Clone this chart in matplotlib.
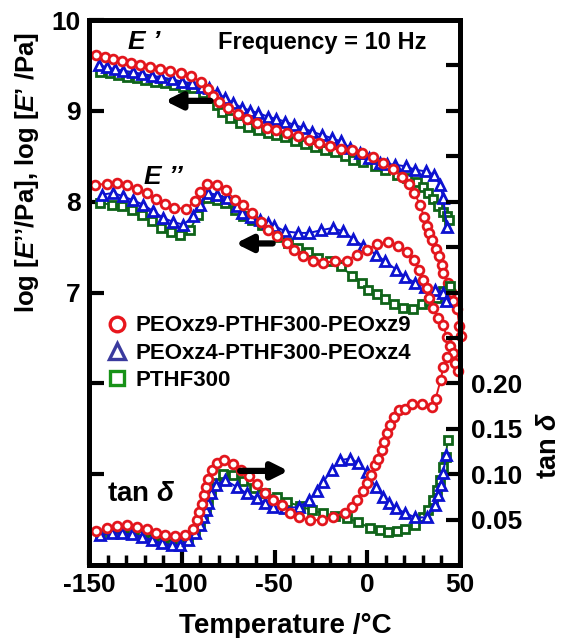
import matplotlib.pyplot as plt
from matplotlib.lines import Line2D
from matplotlib.ticker import MultipleLocator

# ---- data ----
# PEOxz9-PTHF300-PEOxz9
T9_e1 = [-146.2, -141.4, -136.9, -132.4, -127.5, -122.5, -117.1, -111.7, -106.3, -100.6,
         -95.0, -89.8, -86.0, -83.0, -79.8, -74.9, -69.8, -65.0, -59.6, -54.2,
         -49.0, -43.1, -37.2, -31.4, -26.0, -20.1, -14.2, -8.4, -2.7, 2.9,
         8.3, 13.7, 18.6, 22.7, 25.4, 28.4, 30.6, 32.0, 33.4, 35.1,
         36.9, 38.7, 40.1, 41.0, 43.4, 45.0, 46.4, 48.5, 49.6, 50.5]
E1_9 = [9.615, 9.59, 9.571, 9.553, 9.531, 9.509, 9.487, 9.462, 9.443, 9.414,
        9.385, 9.319, 9.245, 9.165, 9.096, 9.030, 8.967, 8.912, 8.865, 8.816,
        8.787, 8.755, 8.718, 8.681, 8.645, 8.615, 8.582, 8.564, 8.535, 8.487,
        8.425, 8.363, 8.271, 8.195, 8.096, 7.967, 7.835, 7.729, 7.656, 7.575,
        7.480, 7.399, 7.308, 7.216, 7.106, 7.003, 6.904, 6.813, 6.630, 6.52]

T9_e2 = [-146.8, -140.5, -135.1, -129.7, -124.3, -118.9, -114.0, -109.0, -104.0, -97.7,
         -92.9, -90.2, -86.5, -81.2, -76.3, -71.3, -66.8, -62.3, -57.3, -53.3,
         -48.5, -43.4, -39.5, -34.5, -29.1, -23.7, -17.4, -11.1, -5.4, 0.0,
         5.4, 11.3, 16.7, 21.3, 25.2, 28.1, 30.2, 32.0, 33.5, 35.6,
         38.3, 41.0, 42.8, 44.6, 46.1, 47.3, 49.1]
E2_9 = [8.187, 8.195, 8.205, 8.187, 8.143, 8.096, 8.030, 7.975, 7.931, 7.923,
        8.003, 8.107, 8.198, 8.179, 8.124, 8.022, 7.967, 7.876, 7.773, 7.692,
        7.626, 7.546, 7.473, 7.407, 7.352, 7.326, 7.344, 7.352, 7.418, 7.473,
        7.535, 7.553, 7.509, 7.443, 7.363, 7.253, 7.143, 7.052, 6.942, 6.832,
        6.722, 6.637, 6.513, 6.41, 6.337, 6.227, 6.135]

T9_tan = [-146.4, -140.5, -135.1, -129.7, -124.3, -118.9, -114.0, -109.0, -103.6, -98.2,
          -94.1, -91.9, -90.7, -89.2, -88.0, -86.9, -85.7, -83.9, -81.2, -77.2,
          -72.2, -68.0, -63.7, -59.6, -55.1, -50.6, -46.1, -41.6, -36.6, -30.9,
          -24.6, -18.3, -12.0, -8.4, -5.4, -2.4, -0.3, 1.9, 4.2, 6.0,
          7.8, 9.2, 10.8, 12.3, 14.6, 17.3, 20.3, 23.9, 29.3, 34.7,
          36.9, 39.6, 41.0, 42.8]
tan9 = [0.0374, 0.0403, 0.0429, 0.0436, 0.0421, 0.0392, 0.0355, 0.0330, 0.0319, 0.0330,
        0.0392, 0.0494, 0.0586, 0.0670, 0.0769, 0.0854, 0.0945, 0.1044, 0.1124, 0.1154,
        0.1110, 0.1050, 0.0980, 0.0887, 0.0794, 0.0714, 0.0659, 0.0575, 0.0524, 0.0495,
        0.0495, 0.0531, 0.0575, 0.0641, 0.0714, 0.0817, 0.0904, 0.0989, 0.1099, 0.1172,
        0.1264, 0.1355, 0.1454, 0.1546, 0.1630, 0.1703, 0.1714, 0.1777, 0.1769, 0.1740,
        0.1832, 0.2041, 0.2179, 0.2289]

# PEOxz4-PTHF300-PEOxz4
T4_e1 = [-144.6, -140.5, -136.0, -131.5, -126.1, -121.6, -116.2, -111.2, -105.4, -100.0,
         -94.6, -89.2, -85.3, -81.2, -76.7, -72.2, -67.7, -63.2, -58.7, -53.7,
         -49.0, -44.3, -39.5, -34.8, -30.0, -24.6, -19.2, -14.2, -9.3, -3.9,
         1.1, 6.9, 10.9, 14.9, 20.9, 25.7, 31.7, 36.0, 39.2, 41.0, 42.8]
E1_4 = [9.505, 9.480, 9.458, 9.443, 9.425, 9.407, 9.388, 9.370, 9.348, 9.322,
        9.304, 9.267, 9.253, 9.201, 9.140, 9.085, 9.036, 9.003, 8.975, 8.937,
        8.910, 8.882, 8.846, 8.816, 8.772, 8.736, 8.700, 8.663, 8.590, 8.535,
        8.480, 8.425, 8.415, 8.407, 8.388, 8.352, 8.333, 8.297, 8.187, 8.041, 7.722]

T4_e2 = [-143.2, -136.9, -131.5, -126.1, -120.7, -115.3, -109.9, -104.6, -99.2, -93.8,
         -90.2, -85.7, -81.2, -75.8, -70.4, -67.7, -62.8, -57.8, -53.3, -50.3,
         -44.3, -37.2, -31.2, -25.1, -18.6, -13.2, -7.5, -2.1, 4.7, 9.6,
         15.5, 20.3, 25.7, 31.1, 36.5, 41.0, 42.4]
E2_4 = [8.077, 8.096, 8.058, 8.014, 7.967, 7.893, 7.821, 7.777, 7.747, 7.838,
        7.967, 8.096, 8.077, 8.041, 7.948, 7.876, 7.832, 7.802, 7.766, 7.736,
        7.674, 7.656, 7.656, 7.685, 7.711, 7.674, 7.590, 7.509, 7.418, 7.344,
        7.253, 7.173, 7.107, 7.063, 7.033, 6.997, 6.904]

T4_tan = [-144.1, -137.8, -132.4, -127.0, -121.6, -116.2, -110.8, -105.4, -100.9, -96.5,
          -92.9, -90.2, -88.4, -87.1, -85.7, -84.2, -81.5, -76.7, -70.4, -65.0,
          -59.6, -55.1, -51.0, -44.3, -36.6, -31.2, -27.3, -23.7, -19.2, -14.7,
          -9.3, -4.8, -0.3, 4.7, 8.7, 11.9, 15.5, 20.3, 25.7, 32.0,
          36.5, 38.3, 39.6, 41.0, 42.4]
tan4 = [0.0330, 0.0348, 0.0348, 0.0337, 0.0311, 0.0275, 0.0238, 0.0220, 0.0220, 0.0275,
        0.0348, 0.0440, 0.0531, 0.0604, 0.0685, 0.0788, 0.0879, 0.0934, 0.0860, 0.0788,
        0.0733, 0.0678, 0.0637, 0.0623, 0.0641, 0.0714, 0.0817, 0.0915, 0.1044, 0.1154,
        0.1172, 0.1124, 0.1025, 0.0854, 0.0751, 0.0685, 0.0623, 0.0575, 0.0524, 0.0524,
        0.0659, 0.0769, 0.0879, 0.1008, 0.1209]

# PTHF300
T3_e1 = [-144.1, -138.7, -134.2, -129.7, -124.3, -119.8, -114.4, -109.0, -104.0, -99.2,
         -93.8, -88.4, -83.9, -81.2, -78.5, -74.0, -68.6, -64.1, -58.7, -53.7,
         -49.0, -44.3, -38.9, -33.6, -28.2, -22.9, -17.4, -12.0, -7.5, -2.1,
         4.2, 9.6, 15.9, 21.3, 26.7, 30.2, 32.9, 35.6, 38.3, 41.0, 42.8, 44.0]
E1_3 = [9.432, 9.414, 9.396, 9.377, 9.359, 9.341, 9.322, 9.304, 9.286, 9.267,
        9.249, 9.195, 9.140, 9.060, 8.992, 8.920, 8.865, 8.827, 8.791, 8.755,
        8.735, 8.711, 8.663, 8.637, 8.601, 8.571, 8.542, 8.505, 8.462, 8.432,
        8.396, 8.352, 8.297, 8.260, 8.220, 8.160, 8.090, 8.030, 7.950, 7.890, 7.840, 7.800]

T3_e2 = [-144.1, -137.8, -132.4, -127.0, -121.6, -116.2, -111.2, -105.8, -100.9, -95.6,
         -91.1, -86.5, -81.2, -76.7, -71.3, -66.8, -62.3, -56.9, -52.4, -47.5,
         -42.6, -37.2, -31.8, -26.4, -20.1, -14.3, -8.4, -3.0, 0.6, 5.1,
         9.6, 14.4, 19.4, 24.5, 29.4, 33.5, 37.4, 41.0, 44.6]
E2_3 = [7.986, 7.967, 7.948, 7.912, 7.857, 7.784, 7.711, 7.663, 7.637, 7.692,
        7.857, 8.041, 8.022, 7.986, 7.912, 7.838, 7.802, 7.747, 7.711, 7.615,
        7.546, 7.491, 7.443, 7.381, 7.344, 7.289, 7.187, 7.107, 7.033, 6.978,
        6.923, 6.868, 6.832, 6.821, 6.868, 6.904, 6.942, 7.014, 7.069]

T3_tan = [-144.1, -138.0, -132.0, -127.0, -121.6, -116.2, -110.8, -105.4, -100.9, -96.5,
          -92.9, -90.2, -88.4, -87.1, -85.7, -84.2, -81.5, -77.5, -72.5, -66.8,
          -61.0, -55.0, -48.8, -43.4, -36.3, -30.0, -23.7, -17.4, -11.1, -4.8,
          1.5, 6.9, 11.3, 15.9, 20.3, 25.7, 30.2, 32.9, 35.3, 37.4,
          39.2, 41.0, 42.4, 43.3]
tan3 = [0.0340, 0.0360, 0.0360, 0.0350, 0.0325, 0.0290, 0.0255, 0.0235, 0.0235, 0.0290,
        0.0365, 0.0460, 0.0555, 0.0625, 0.0710, 0.0810, 0.0905, 0.1005, 0.0990, 0.0930,
        0.0850, 0.0790, 0.0751, 0.0696, 0.0648, 0.0604, 0.0568, 0.0538, 0.0513, 0.0476,
        0.0403, 0.0385, 0.0366, 0.0374, 0.0392, 0.0440, 0.0531, 0.0604, 0.0714, 0.0824,
        0.0934, 0.1080, 0.1190, 0.1374]

labels = ["PEOxz9-PTHF300-PEOxz9", "PEOxz4-PTHF300-PEOxz4", "PTHF300"]
logE_ticks = [5, 6, 7, 8, 9, 10]
logE_ticklabels = ["", "", "7", "8", "9", "10"]
tan_ticks = [0.05, 0.10, 0.15, 0.20, 0.25, 0.30, 0.35, 0.40, 0.45, 0.50, 0.55]
tan_ticklabels = ["0.05", "0.10", "0.15", "0.20"] + [""] * 7

RED, BLUE, GREEN = "#e3161d", "#0d12d0", "#0f6419"

plt.rcParams.update({
    "font.family": ["Liberation Sans", "DejaVu Sans"],
    "font.weight": "bold",
    "axes.labelweight": "bold",
    "axes.unicode_minus": False,
    "mathtext.fontset": "custom",
    "mathtext.rm": "Liberation Sans:bold",
    "mathtext.it": "Liberation Sans:italic:bold",
    "mathtext.bf": "Liberation Sans:bold",
    "axes.linewidth": 3.5,
})

fig = plt.figure(figsize=(5.63, 6.38), dpi=100)
ax = fig.add_axes([89 / 563, 1 - 565 / 638, 371 / 563, 545 / 638])
ax2 = ax.twinx()


def draw(a, x, y, marker, color, ms):
    a.plot(x, y, marker=marker, color=color, mfc="white", mec=color,
           ms=ms, mew=2.0, lw=1.4, clip_on=False)


draw(ax, T3_e1, E1_3, "s", GREEN, 5.8)
draw(ax, T4_e1, E1_4, "^", BLUE, 7.5)
draw(ax, T9_e1, E1_9, "o", RED, 6.3)
draw(ax, T3_e2, E2_3, "s", GREEN, 5.8)
draw(ax, T4_e2, E2_4, "^", BLUE, 7.5)
draw(ax, T9_e2, E2_9, "o", RED, 6.3)
draw(ax2, T3_tan, tan3, "s", GREEN, 5.8)
draw(ax2, T4_tan, tan4, "^", BLUE, 7.5)
draw(ax2, T9_tan, tan9, "o", RED, 6.3)

ax.set_xlim(-150, 50)
ax.set_ylim(4, 10)
ax2.set_ylim(0, 0.6)

ax.set_xticks([-150, -100, -50, 0, 50])
ax.xaxis.set_minor_locator(MultipleLocator(10))
ax.set_yticks(logE_ticks)
ax.set_yticklabels(logE_ticklabels)
ax2.set_yticks(tan_ticks)
ax2.set_yticklabels(tan_ticklabels)

ax.tick_params(axis="both", which="major", direction="in", length=11, width=3,
               labelsize=19, pad=6, top=False, right=False)
ax.tick_params(axis="x", which="minor", direction="in", length=7, width=2.5, top=False)
ax2.tick_params(axis="y", which="major", direction="in", length=10, width=3,
                labelsize=19, pad=8)

ax.set_xlabel("Temperature /°C", fontsize=20, labelpad=4)
ax.xaxis.set_label_coords(0.53, -0.088)
ax.set_ylabel("log [$E$’’/Pa], log [$E$’ /Pa]", fontsize=18.5)
ax.yaxis.set_label_coords(-0.13, 0.72)
ax2.set_ylabel("tan $\\delta$", fontsize=19.5)
ax2.yaxis.set_label_coords(1.205, 0.22)

ax.text(-120, 9.76, "E ’", fontsize=19, style="italic", weight="bold", ha="center", va="center")
ax.text(-110, 8.27, "E ’’", fontsize=19, style="italic", weight="bold", ha="center", va="center")
ax.text(-24.5, 9.75, "Frequency = 10 Hz", fontsize=17, weight="bold", ha="center", va="center")
ax2.text(-122, 0.078, "tan $\\delta$", fontsize=20, ha="center", va="center")

arrow = dict(arrowstyle="-|>", lw=4.5, color="black", mutation_scale=24, shrinkA=0, shrinkB=0)
ax.annotate("", xy=(-109, 9.11), xytext=(-84.5, 9.11), arrowprops=arrow)
ax.annotate("", xy=(-71, 7.54), xytext=(-51, 7.54), arrowprops=arrow)
ax2.annotate("", xy=(-42.5, 0.1036), xytext=(-68.5, 0.1036), arrowprops=arrow)

handles = [
    Line2D([], [], ls="none", marker="o", ms=10.5, mew=2.4, mfc="white", mec="#e8161d"),
    Line2D([], [], ls="none", marker="^", ms=11.5, mew=2.4, mfc="white", mec="#3a3a9e"),
    Line2D([], [], ls="none", marker="s", ms=10, mew=2.4, mfc="white", mec="#179217"),
]
ax2.legend(handles, labels, loc="upper left", bbox_to_anchor=(0.045, 0.458),
           frameon=False, fontsize=16, handlelength=1.0, handletextpad=0.35,
           labelspacing=0.28, borderaxespad=0, borderpad=0)

fig.savefig("out.png", dpi=100)
